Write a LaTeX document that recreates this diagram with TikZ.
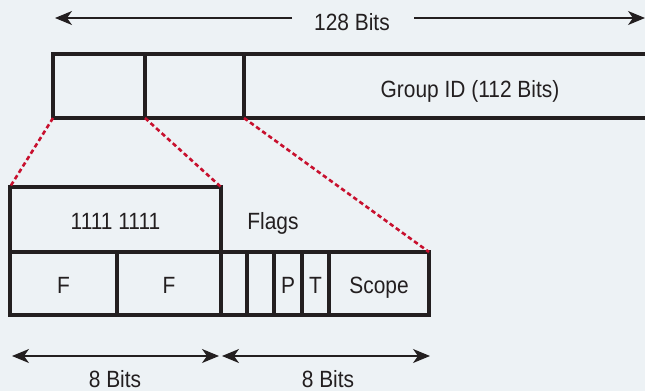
\documentclass[tikz,border=0pt]{standalone}
\usepackage{fontspec}
\setmainfont{Liberation Sans}[FakeStretch=0.89]
\usetikzlibrary{arrows.meta}
\definecolor{bg}{HTML}{EDF2F5}
\definecolor{ink}{HTML}{231F20}
\definecolor{dashred}{HTML}{C8102E}
\begin{document}
\begin{tikzpicture}[x=1pt,y=-1pt,
  every node/.style={font=\fontsize{23.5}{26}\selectfont, text=ink},
  cell/.style={draw=ink, line width=3.2pt, inner sep=0pt, outer sep=0pt,
    anchor=north west, text height=20pt, text depth=0pt},
  lbl/.style={inner sep=0pt, anchor=base},
  dim/.style={draw=ink, line width=1.3pt, {Stealth[length=17pt,width=14pt,inset=5pt]}-{Stealth[length=17pt,width=14pt,inset=5pt]}},
  dimr/.style={draw=ink, line width=1.3pt, -{Stealth[length=17pt,width=14pt,inset=5pt]}},
  zoomline/.style={draw=dashred, line width=2.6pt, dash pattern=on 4.5pt off 3pt}]
\fill[bg] (0,0) rectangle (645,391);
\useasboundingbox (0,0) rectangle (645,391);
% top row
\node[cell, minimum width=92pt, minimum height=64pt] (c1) at (53,54) {};
\node[cell, minimum width=99pt, minimum height=64pt] (c2) at (145,54) {};
\node[cell, minimum width=420pt, minimum height=64pt, text width=420pt] (grp) at (244,54) {};
\node[lbl] (grptext) at (470,97) {Group ID (112 Bits)};
% top dimension
\node[lbl] (t128) at (352,30) {128 Bits};
\coordinate (tl) at (55,18);
\coordinate (tla) at (292,18);
\coordinate (tr) at (645,18);
\coordinate (tra) at (414,18);
\draw[dimr] (tla) -- (tl);
\draw[dimr] (tra) -- (tr);
% lower structure
\node[cell, minimum width=211pt, minimum height=65pt] (ones) at (10,187) {1111 1111};
\node[lbl] (flags) at (273,229) {Flags};
\node[cell, minimum width=107pt, minimum height=63pt] (f1) at (10,252) {F};
\node[cell, minimum width=104pt, minimum height=63pt] (f2) at (117,252) {F};
\node[cell, minimum width=26pt, minimum height=63pt] (b1) at (221,252) {};
\node[cell, minimum width=27pt, minimum height=63pt] (b2) at (247,252) {};
\node[cell, minimum width=28pt, minimum height=63pt] (bp) at (274,252) {P};
\node[cell, minimum width=27pt, minimum height=63pt] (bt) at (302,252) {T};
\node[cell, minimum width=100pt, minimum height=63pt] (scope) at (329,252) {Scope};
% zoom lines
\draw[zoomline] (c1.south west) -- (ones.north west);
\draw[zoomline] (c1.south east) -- (ones.north east);
\draw[zoomline] (c2.south east) -- (scope.north east);
% bottom dimensions
\coordinate (bl1) at (12,356);
\coordinate (bl2) at (219,356);
\coordinate (br1) at (222,356);
\coordinate (br2) at (430,356);
\draw[dim] (bl1) -- (bl2);
\draw[dim] (br1) -- (br2);
\node[lbl] (b8l) at (115,387) {8 Bits};
\node[lbl] (b8r) at (328,387) {8 Bits};
\end{tikzpicture}
\end{document}
